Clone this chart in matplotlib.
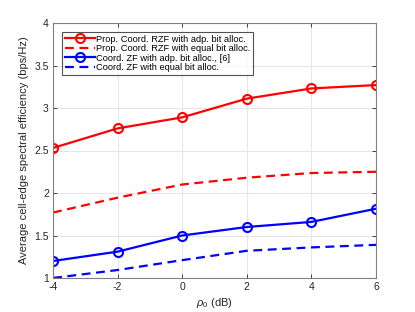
import matplotlib
matplotlib.use('Agg')
import matplotlib.pyplot as plt

rho0_db = [-4, -2, 0, 2, 4, 6]
rzf_adp = [2.53, 2.76, 2.89, 3.11, 3.23, 3.27]
rzf_equal = [1.77, 1.945, 2.10, 2.18, 2.235, 2.25]
zf_adp = [1.20, 1.31, 1.50, 1.60, 1.66, 1.815]
zf_equal = [1.00, 1.094, 1.21, 1.32, 1.36, 1.39]

labels = [
    'Prop. Coord. RZF with adp. bit alloc.',
    'Prop. Coord. RZF with equal bit alloc.',
    'Coord. ZF with adp. bit alloc., [6]',
    'Coord. ZF with equal bit alloc.',
]
x_ticks = [-4, -2, 0, 2, 4, 6]
y_ticks = [1, 1.5, 2, 2.5, 3, 3.5, 4]


def main():
    plt.rcParams['font.family'] = ['Liberation Sans', 'DejaVu Sans']
    plt.rcParams['axes.unicode_minus'] = False
    plt.rcParams['mathtext.fontset'] = 'custom'
    plt.rcParams['mathtext.it'] = 'Liberation Sans:italic'
    plt.rcParams['mathtext.rm'] = 'Liberation Sans'
    fig = plt.figure(figsize=(4.15, 3.12), dpi=100)
    ax = fig.add_axes([53 / 415, 1 - 278 / 312, 323 / 415, 255 / 312])
    edge = '#262626'
    mk = dict(marker='o', markersize=6.5, markerfacecolor='none',
              markeredgewidth=1.5)
    ax.plot(rho0_db, rzf_adp, '-', color='#ff0000', lw=1.6,
            label=labels[0], **mk)
    ax.plot(rho0_db, rzf_equal, '--', color='#ff0000', lw=1.6,
            label=labels[1], dashes=(4, 2.5))
    ax.plot(rho0_db, zf_adp, '-', color='#0000ff', lw=1.6,
            label=labels[2], **mk)
    ax.plot(rho0_db, zf_equal, '--', color='#0000ff', lw=1.6,
            label=labels[3], dashes=(4, 2.5))
    ax.set_xlim(-4, 6)
    ax.set_ylim(1, 4)
    ax.set_xticks(x_ticks)
    ax.set_yticks(y_ticks)
    ax.set_yticklabels(['1', '1.5', '2', '2.5', '3', '3.5', '4'])
    ax.grid(True, color='#e6e6e6', lw=0.8)
    ax.set_axisbelow(True)
    ax.tick_params(direction='in', top=True, right=True, length=3,
                   width=0.6, colors=edge, labelsize=7.5, pad=3)
    for spine in ax.spines.values():
        spine.set_color('#808080')
        spine.set_linewidth(0.8)
    ax.set_xlabel(r'$\rho_0$ (dB)', fontsize=8, color=edge, labelpad=3)
    ax.set_ylabel('Average cell-edge spectral efficiency (bps/Hz)',
                  fontsize=8, color=edge, labelpad=4)
    leg = ax.legend(loc='upper left', bbox_to_anchor=(0.028, 0.965),
                    fontsize=6.7, frameon=True, fancybox=False,
                    borderpad=0.3, labelspacing=0.05, handlelength=3.2,
                    handletextpad=0.1, borderaxespad=0)
    leg.get_frame().set_edgecolor(edge)
    leg.get_frame().set_linewidth(0.8)
    fig.savefig('out.png', dpi=100)


if __name__ == '__main__':
    main()
